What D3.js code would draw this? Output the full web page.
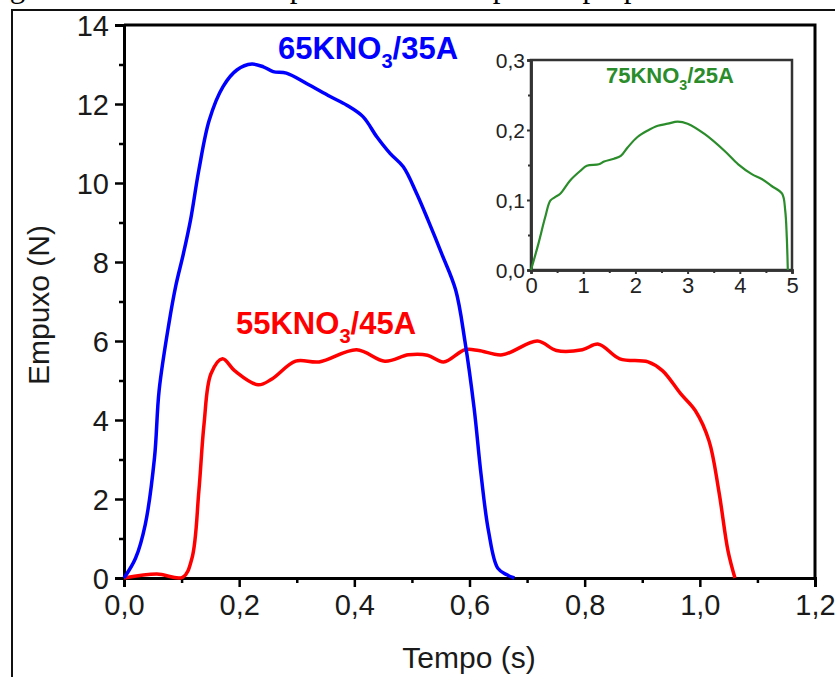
<!DOCTYPE html>
<html><head><meta charset="utf-8">
<script src="https://cdn.jsdelivr.net/npm/d3@7/dist/d3.min.js"></script>
<style>body{margin:0;background:#fff} svg{display:block}</style>
</head><body>
<svg id="c" width="835" height="677"></svg>
<script>
// ---- data ----
const caption = "Figura 5 – Curvas de empuxo versus tempo dos propelentes";
const xLabel = "Tempo (s)";
const yLabel = "Empuxo (N)";
const xTicks = [0, 0.2, 0.4, 0.6, 0.8, 1.0, 1.2];
const yTicks = [0, 2, 4, 6, 8, 10, 12, 14];
const insetXTicks = [0, 1, 2, 3, 4, 5];
const insetYTicks = [0, 0.1, 0.2, 0.3];

// 65KNO3/35A (blue)
const tBlue = [0, 0.02, 0.037, 0.053, 0.061, 0.078, 0.09, 0.103, 0.1155, 0.13, 0.148, 0.172, 0.196, 0.222, 0.242, 0.259, 0.282, 0.317, 0.358, 0.387, 0.415, 0.439, 0.462, 0.485, 0.508, 0.528, 0.552, 0.576, 0.592, 0.608, 0.620, 0.633, 0.649, 0.665, 0.678];
const vBlue = [0, 0.5, 1.36, 3.05, 4.75, 6.44, 7.4, 8.2, 9.06, 10.33, 11.59, 12.44, 12.86, 13.01, 12.94, 12.82, 12.78, 12.52, 12.19, 11.97, 11.68, 11.17, 10.75, 10.41, 9.74, 9.06, 8.2, 7.29, 6.0, 4.3, 2.63, 1.19, 0.25, 0.08, 0];

// 55KNO3/45A (red)
const tRed = [0, 0.057, 0.102, 0.118, 0.13, 0.139, 0.151, 0.171, 0.192, 0.233, 0.257, 0.298, 0.339, 0.404, 0.453, 0.494, 0.527, 0.555, 0.592, 0.616, 0.657, 0.718, 0.751, 0.796, 0.824, 0.861, 0.910, 0.935, 0.967, 0.992, 1.016, 1.033, 1.049, 1.061];
const vRed = [0, 0.1, 0.02, 0.5, 2.2, 3.9, 5.17, 5.55, 5.25, 4.89, 5.04, 5.49, 5.47, 5.78, 5.49, 5.65, 5.64, 5.47, 5.78, 5.76, 5.65, 6.0, 5.76, 5.78, 5.92, 5.55, 5.47, 5.25, 4.66, 4.24, 3.47, 2.2, 0.68, 0];

// 75KNO3/25A (green, inset)
const tGreen = [0, 0.14, 0.27, 0.37, 0.46, 0.56, 0.75, 0.95, 1.07, 1.30, 1.40, 1.59, 1.72, 1.85, 2.04, 2.23, 2.43, 2.62, 2.81, 3.00, 3.33, 3.71, 3.97, 4.23, 4.42, 4.61, 4.81, 4.87, 4.90, 4.92];
const vGreen = [0, 0.037, 0.075, 0.099, 0.104, 0.109, 0.128, 0.142, 0.149, 0.151, 0.155, 0.159, 0.163, 0.175, 0.19, 0.199, 0.206, 0.209, 0.212, 0.209, 0.194, 0.170, 0.151, 0.137, 0.130, 0.120, 0.109, 0.085, 0.047, 0];

const seriesNames = [
  {base: "65KNO", sub: "3", rest: "/35A"},
  {base: "55KNO", sub: "3", rest: "/45A"},
  {base: "75KNO", sub: "3", rest: "/25A"}
];

// ---- drawing ----
const svg = d3.select("#c");
const fmt = d => d3.format(".1f")(d).replace(".", ",");
const SANS = "'Liberation Sans', Arial, sans-serif";

// caption (cut at top, as in the reference) + outer border
svg.append("text").attr("x", -16).attr("y", -3)
  .attr("font-family", "'Liberation Serif', 'Times New Roman', serif")
  .attr("font-size", 31).attr("fill", "#000").text(caption);
svg.append("path").attr("d", "M12,677 V10 H835")
  .attr("fill", "none").attr("stroke", "#111").attr("stroke-width", 2);

// main chart
const x = d3.scaleLinear([0, 1.2], [124, 815]);
const y = d3.scaleLinear([0, 14], [578, 25]);

const gx = svg.append("g").attr("transform", `translate(0,${y(0)})`);
gx.call(d3.axisBottom(x).tickValues(d3.range(0.1, 1.2, 0.2)).tickSize(5).tickFormat(""));
gx.append("g").call(d3.axisBottom(x).tickValues(xTicks).tickSize(9).tickPadding(7).tickFormat(fmt));

const gy = svg.append("g").attr("transform", `translate(${x(0)},0)`);
gy.call(d3.axisLeft(y).tickValues(d3.range(1, 14, 2)).tickSize(5).tickFormat(""));
gy.append("g").call(d3.axisLeft(y).tickValues(yTicks).tickSize(9).tickPadding(6).tickFormat(d3.format("d")));

svg.selectAll(".domain").attr("stroke", "#000").attr("stroke-width", 3);
svg.selectAll(".tick line").attr("stroke", "#000").attr("stroke-width", 2.5);
svg.selectAll(".tick text").attr("font-family", SANS).attr("font-size", 29).attr("fill", "#1a1a1a");
gy.selectAll(".tick text").attr("dy", "0.36em");

// frame top/right
svg.append("path").attr("d", `M${x(0)},${y(14)} H${x(1.2)} V${y(0)}`)
  .attr("fill", "none").attr("stroke", "#000").attr("stroke-width", 3);

const line = d3.line().curve(d3.curveCatmullRom.alpha(0.5)).x(d => x(d[0])).y(d => y(d[1]));
svg.append("path").datum(d3.zip(tRed, vRed)).attr("d", line)
  .attr("fill", "none").attr("stroke", "#ff0000").attr("stroke-width", 3.5);
svg.append("path").datum(d3.zip(tBlue, vBlue)).attr("d", line)
  .attr("fill", "none").attr("stroke", "#0000ff").attr("stroke-width", 3.5);

svg.append("text").attr("x", 469).attr("y", 668).attr("text-anchor", "middle")
  .attr("font-family", SANS).attr("font-size", 30).attr("fill", "#1a1a1a").text(xLabel);
svg.append("text").attr("transform", "translate(49,305) rotate(-90)").attr("text-anchor", "middle")
  .attr("font-family", SANS).attr("font-size", 30).attr("fill", "#1a1a1a").text(yLabel);

function seriesLabel(sel, s, xx, yy, size, color) {
  const t = sel.append("text").attr("x", xx).attr("y", yy)
    .attr("font-family", SANS).attr("font-weight", "bold").attr("font-size", size).attr("fill", color);
  t.append("tspan").text(s.base);
  t.append("tspan").attr("dy", size * 0.3).attr("font-size", size * 0.65).text(s.sub);
  t.append("tspan").attr("dy", -size * 0.3).text(s.rest);
}
seriesLabel(svg, seriesNames[0], 278, 59, 31, "#0000ff");
seriesLabel(svg, seriesNames[1], 236, 334, 31, "#ff0000");

// inset
const xi = d3.scaleLinear([0, 5], [531, 792]);
const yi = d3.scaleLinear([0, 0.3], [270, 60]);
const inset = svg.append("g");
inset.append("rect").attr("x", xi(0)).attr("y", yi(0.3)).attr("width", xi(5) - xi(0)).attr("height", yi(0) - yi(0.3))
  .attr("fill", "none").attr("stroke", "#333").attr("stroke-width", 2.5);
const ix = inset.append("g").attr("transform", `translate(0,${yi(0)})`);
ix.call(d3.axisBottom(xi).tickValues(d3.range(0.5, 5, 1)).tickSize(3).tickFormat(""));
ix.append("g").call(d3.axisBottom(xi).tickValues(insetXTicks).tickSize(4).tickPadding(3).tickFormat(d3.format("d")));
const iy = inset.append("g").attr("transform", `translate(${xi(0)},0)`);
iy.call(d3.axisLeft(yi).tickValues([0.05, 0.15, 0.25]).tickSize(3).tickFormat(""));
iy.append("g").call(d3.axisLeft(yi).tickValues(insetYTicks).tickSize(4).tickPadding(2).tickFormat(fmt));
inset.selectAll(".domain").attr("stroke", "#333").attr("stroke-width", 2.5);
inset.selectAll(".tick line").attr("stroke", "#333").attr("stroke-width", 2);
inset.selectAll(".tick text").attr("font-family", SANS).attr("font-size", 21).attr("fill", "#222");
iy.selectAll(".tick text").attr("dy", "0.36em");
ix.selectAll(".tick text").attr("font-size", 22);

const lineI = d3.line().curve(d3.curveCatmullRom.alpha(0.5)).x(d => xi(d[0])).y(d => yi(d[1]));
inset.append("path").datum(d3.zip(tGreen, vGreen)).attr("d", lineI)
  .attr("fill", "none").attr("stroke", "#2a8c2a").attr("stroke-width", 2.2);
seriesLabel(inset, seriesNames[2], 606, 83, 22, "#2a8c2a");
</script>
</body></html>
